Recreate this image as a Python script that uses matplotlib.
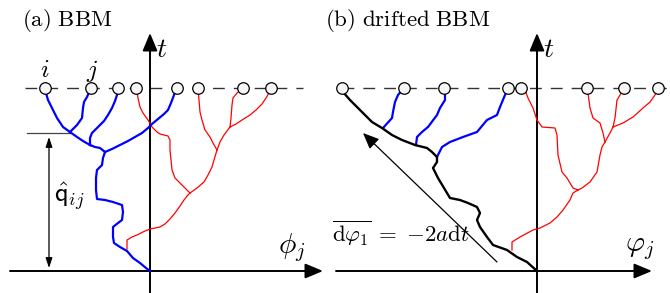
import matplotlib
matplotlib.use("Agg")
import matplotlib.pyplot as plt

plt.rcParams['mathtext.fontset'] = 'cm'

# final time (dashed line) in both panels
T = 183

# ---- panel (a): BBM, branches as (phi, t) lists ----
a_blue = [
    # trunk from root to first split
    [(0, 0), (-4, 3), (-10, 8), (-17, 13), (-23, 20), (-30, 24), (-36, 28), (-37, 34),
     (-37, 44), (-32, 48), (-28, 51), (-27, 59), (-28, 66), (-37, 69), (-45, 71), (-53, 72),
     (-54, 81), (-54, 93), (-53, 101), (-48, 106), (-47, 113), (-45, 119)],
    [(-45, 119), (-38, 122), (-30, 126), (-22, 130), (-15, 134), (-8, 138), (-2, 143),
     (2, 147), (8, 152), (14, 157), (18, 161), (21, 168), (24, 176), (27, 183)],
    [(-45, 119), (-50, 123), (-55, 124), (-60, 126)],
    [(-60, 126), (-60, 133), (-58, 138), (-52, 144), (-46, 150), (-42, 156), (-38, 163),
     (-35, 170), (-33, 176), (-32, 183)],
    [(-60, 126), (-67, 130), (-73, 134), (-80, 139)],
    [(-80, 139), (-87, 144), (-93, 153), (-97, 161), (-102, 171), (-104, 178), (-105, 183)],
    [(-80, 139), (-73, 146), (-68, 153), (-67, 163), (-66, 169), (-63, 174), (-59, 183)],
]
a_red = [
    [(-23, 22), (-23, 31), (-18, 34), (-13, 36), (-5, 40), (0, 42), (10, 44), (15, 47),
     (20, 52), (25, 58), (30, 65), (34, 71), (38, 76), (40, 78)],
    [(40, 78), (35, 83), (30, 88), (25, 93), (22, 101), (21, 111), (20, 121), (20, 131),
     (18, 135), (10, 137), (7, 139), (2, 144), (-2, 151), (-7, 158), (-10, 164),
     (-12, 173), (-13, 179), (-14, 183)],
    [(40, 78), (47, 83), (54, 89), (58, 96), (62, 104), (64, 111), (67, 121)],
    [(67, 121), (63, 128), (60, 134), (55, 141), (52, 151), (50, 159), (49, 171), (48, 183)],
    [(67, 121), (70, 129), (74, 136), (80, 144)],
    [(80, 144), (81, 153), (82, 166), (83, 173), (87, 178), (93, 183)],
    [(80, 144), (86, 147), (92, 151), (100, 156), (106, 161), (112, 167), (116, 173),
     (119, 178), (121, 183)],
]
a_leaves = [-105, -59, -32, -14, 27, 48, 93, 121]
qij_split = 138   # time of split between i and j

# ---- panel (b): drifted BBM ----
b_black = [(0, 0), (-10, 9), (-20, 14), (-30, 21), (-44, 26), (-50, 34), (-57, 44), (-60, 51),
           (-57, 58), (-60, 64), (-69, 68), (-77, 71), (-87, 73), (-90, 78), (-99, 93),
           (-104, 103), (-100, 109), (-100, 114), (-105, 119), (-110, 123), (-122, 126),
           (-135, 131), (-145, 136), (-155, 143), (-165, 149), (-174, 158), (-180, 164),
           (-187, 171), (-194, 179), (-195, 183)]
b_blue = [
    [(-154, 143), (-145, 153), (-144, 159), (-142, 169), (-139, 176), (-133, 183)],
    [(-121, 126), (-120, 134), (-115, 139), (-109, 144), (-100, 156), (-97, 163),
     (-92, 171), (-92, 178), (-93, 183)],
    [(-100, 114), (-95, 124), (-87, 129), (-74, 134), (-60, 139), (-50, 151), (-40, 156),
     (-37, 164), (-32, 176), (-29, 183)],
]
b_red = [
    [(-25, 21), (-25, 29), (-17, 34), (-4, 41), (3, 43), (13, 48), (20, 54), (26, 61),
     (33, 71), (36, 78), (41, 81)],
    [(41, 81), (36, 83), (30, 93), (25, 99), (21, 116), (20, 136), (18, 143), (5, 144),
     (0, 151), (-4, 163), (-9, 173), (-12, 181), (-15, 183)],
    [(41, 81), (45, 83), (53, 89), (60, 99), (63, 116), (65, 124), (68, 129)],
    [(68, 129), (66, 138), (63, 148), (56, 153), (53, 163), (51, 178), (50, 183)],
    [(68, 129), (73, 138), (76, 144)],
    [(76, 144), (78, 153), (80, 171), (83, 176), (87, 183)],
    [(76, 144), (86, 148), (96, 154), (106, 163), (113, 169), (118, 176), (120, 181),
     (121, 183)],
]
b_leaves = [-195, -133, -93, -29, -16, 50, 87, 121]
drift_arrow = [(-40, 9), (-174, 138)]

fig = plt.figure(figsize=(6.7, 2.93), dpi=100)
ax1 = fig.add_axes([0, 0, 0.5, 1])
ax2 = fig.add_axes([0.5, 0, 0.5, 1])
ax1.set_xlim(-150, 185)
ax2.set_xlim(-202, 133)
for ax in (ax1, ax2):
    ax.set_ylim(-22, 271)
    ax.axis('off')


def draw_paths(ax, paths, color, lw):
    for p in paths:
        xs = [q[0] for q in p]
        ys = [q[1] for q in p]
        ax.plot(xs, ys, color=color, lw=lw, solid_joinstyle='round', clip_on=False, zorder=3)


def axis_arrow(ax, start, end, lw=1.4):
    ax.annotate('', xy=end, xytext=start,
                arrowprops=dict(arrowstyle='-|>,head_length=0.6,head_width=0.25',
                                mutation_scale=18, lw=lw, color='black',
                                shrinkA=0, shrinkB=0), zorder=2)


# panel (a)
ax1.plot([-125, 153], [T, T], color='#333333', lw=1.0, dashes=(8.5, 6.5), zorder=1)
axis_arrow(ax1, (-140, 0), (173, 0))
axis_arrow(ax1, (0, -22), (0, 238))
draw_paths(ax1, a_red, 'red', 0.9)
draw_paths(ax1, a_blue, 'blue', 1.6)
ax1.plot(a_leaves, [T] * len(a_leaves), 'o', ms=8.3, mfc='#f6f6f6', mec='black', mew=0.9,
         zorder=5, clip_on=False)
ax1.plot([-123, -80], [qij_split, qij_split], color='#444444', lw=0.9, zorder=2)
ax1.annotate('', xy=(-101, 3), xytext=(-101, qij_split - 4),
             arrowprops=dict(arrowstyle='<|-|>,head_length=0.6,head_width=0.2',
                             mutation_scale=10, lw=0.9, color='black', shrinkA=0, shrinkB=0))
ax1.text(-81, 74, r'$\hat{\mathsf{q}}_{ij}$', fontsize=19, ha='center', va='center')
ax1.text(-105, 201, r'$i$', fontsize=18, ha='center', va='center')
ax1.text(-58, 200, r'$j$', fontsize=18, ha='center', va='center')
ax1.text(6, 222, r'$t$', fontsize=20, ha='left', va='center')
ax1.text(128, 23, r'$\phi_j$', fontsize=21, ha='left', va='center')
ax1.text(-128, 245, r'$\mathrm{(a)\ BBM}$', fontsize=16.5, ha='left', va='baseline')

# panel (b)
ax2.plot([-195, 130], [T, T], color='#333333', lw=1.0, dashes=(8.5, 6.5), zorder=1)
axis_arrow(ax2, (-201, 0), (115, 0))
axis_arrow(ax2, (0, -22), (0, 238))
draw_paths(ax2, b_red, 'red', 0.9)
draw_paths(ax2, b_blue, 'blue', 1.6)
draw_paths(ax2, [b_black], 'black', 1.7)
ax2.plot(b_leaves, [T] * len(b_leaves), 'o', ms=8.3, mfc='#f6f6f6', mec='black', mew=0.9,
         zorder=5, clip_on=False)
ax2.annotate('', xy=drift_arrow[1], xytext=drift_arrow[0],
             arrowprops=dict(arrowstyle='-|>,head_length=0.7,head_width=0.3',
                             mutation_scale=14, lw=0.9, color='black', shrinkA=0, shrinkB=0))
ax2.text(-205, 29, r'$\overline{\mathrm{d}\varphi_1}\;=\;{-}2a\mathrm{d}t$', fontsize=16.5,
         ha='left', va='baseline')
ax2.text(6, 222, r'$t$', fontsize=20, ha='left', va='center')
ax2.text(88, 23, r'$\varphi_j$', fontsize=21, ha='left', va='center')
ax2.text(-212, 245, r'$\mathrm{(b)\ drifted\ BBM}$', fontsize=16.5, ha='left', va='baseline')

fig.savefig('out.png', dpi=100)
